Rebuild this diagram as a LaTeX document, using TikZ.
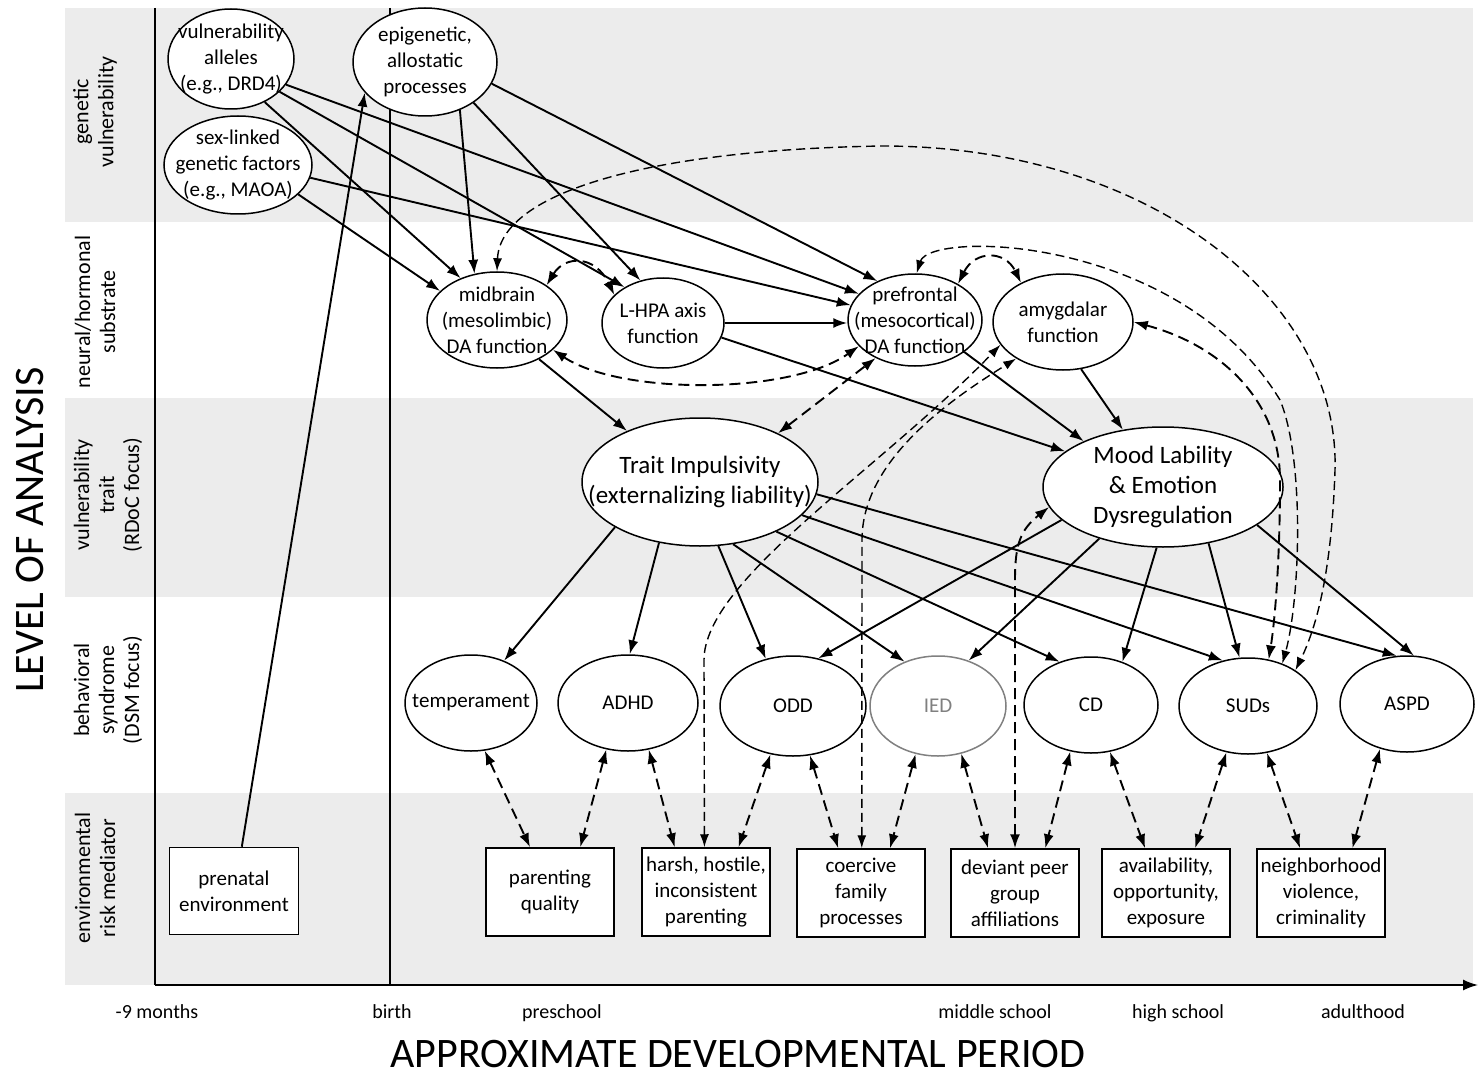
\documentclass[tikz,border=0pt]{standalone}
\usepackage{fontspec}
\setmainfont{Carlito}
\usepackage{tikz}
\usetikzlibrary{arrows.meta,shapes.geometric}
\tikzstyle{every node}=[align=center, inner sep=0pt]

\begin{document}
\begin{tikzpicture}[
    x=1pt, y=-1pt,
    band/.style={fill=gray!15},
    axisline/.style={line width=1.6pt},
    bandlabel/.style={
        rotate=90,
        font=\fontsize{22}{25}\selectfont
        },
    period/.style={anchor=base, font=\fontsize{20}{24}\selectfont},
    axistitle/.style={font=\fontsize{42}{46}\selectfont},
    factor/.style={
        ellipse,
        draw=black,
        fill=white,
        line width=1.5pt,
        inner sep=-30pt,
        font=\fontsize{21}{26}\selectfont
        },
    bigfactor/.style={
        factor,
        font=\fontsize{25}{30}\selectfont
        },
    mediator/.style={
        rectangle,
        draw=black,
        fill=white,
        line width=1.5pt,
        minimum width=128pt,
        minimum height=88pt,
        font=\fontsize{21}{26}\selectfont
        },
    effect/.style={-{Latex[length=14pt,width=10pt]}, line width=1.9pt},
    mutual/.style={
        {Latex[length=14pt,width=10pt]}-{Latex[length=14pt,width=10pt]},
        line width=1.9pt,
        dash pattern=on 11pt off 6pt
        },
    longmutual/.style={
        {Latex[length=13pt,width=9pt]}-{Latex[length=13pt,width=9pt]},
        line width=1.4pt,
        dash pattern=on 9pt off 5pt
        },
  ]
  \useasboundingbox (0,0) rectangle (1481,1078);
  % Bands
  \fill[band] (65,8) rectangle (1473,222);
  \fill[band] (65,398) rectangle (1473,597);
  \fill[band] (65,793) rectangle (1473,985);
  \node[bandlabel] (genlab) at (95,112) {genetic\\vulnerability};
  \node[bandlabel] (neurlab) at (95,312) {neural/hormonal\\substrate};
  \node[bandlabel] (traitlab) at (108,495) {vulnerability\\trait\\(RDoC focus)};
  \node[bandlabel] (synlab) at (108,690) {behavioral\\syndrome\\(DSM focus)};
  \node[bandlabel] (envlab) at (95,878) {environmental\\risk mediator};
  % Axes
  \coordinate (ytop) at (155,8);
  \coordinate (origin) at (155,985);
  \coordinate (xend) at (1478,985);
  \coordinate (birthtop) at (390,8);
  \coordinate (birthbot) at (390,985);
  \draw[axisline] (ytop) -- (origin);
  \draw[axisline, -{Latex[length=15pt,width=11pt]}] (origin) -- (xend);
  \draw[axisline] (birthtop) -- (birthbot);
  \node[period] (months) at (157,1018) {-9 months};
  \node[period] (birth) at (392,1018) {birth};
  \node[period] (preschool) at (562,1018) {preschool};
  \node[period] (middle) at (995,1018) {middle school};
  \node[period] (high) at (1178,1018) {high school};
  \node[period] (adult) at (1363,1018) {adulthood};
  \node[axistitle] (xtitle) at (738,1054) {APPROXIMATE DEVELOPMENTAL PERIOD};
  \node[axistitle, rotate=90] (ytitle) at (30,530) {LEVEL OF ANALYSIS};
  % Genetic level
  \node[factor, minimum width=126pt, minimum height=100pt] (alleles) at (231,59) {vulnerability\\alleles\\(e.g., DRD4)};
  \node[factor, minimum width=148pt, minimum height=98pt] (sexlinked) at (238,165) {sex-linked\\genetic factors\\(e.g., MAOA)};
  \node[factor, minimum width=144pt, minimum height=108pt] (epigen) at (425,62) {epigenetic,\\allostatic\\processes};
  % Neural level
  \node[factor, minimum width=140pt, minimum height=96pt] (midbrain) at (497,320) {midbrain\\(mesolimbic)\\DA function};
  \node[factor, minimum width=122pt, minimum height=90pt] (lhpa) at (663,323) {L-HPA axis\\function};
  \node[factor, minimum width=134pt, minimum height=92pt] (prefrontal) at (915,320) {prefrontal\\(mesocortical)\\DA function};
  \node[factor, minimum width=140pt, minimum height=96pt] (amygdala) at (1063,322) {amygdalar\\function};
  % Trait level
  \node[bigfactor, minimum width=236pt, minimum height=128pt] (trait) at (700,482) {Trait Impulsivity\\(externalizing liability)};
  \node[bigfactor, minimum width=240pt, minimum height=120pt] (mood) at (1163,487) {Mood Lability\\\& Emotion\\Dysregulation};
  % Syndrome level
  \node[factor, minimum width=132pt, minimum height=96pt] (temper) at (471,703) {temperament};
  \node[factor, minimum width=140pt, minimum height=96pt] (adhd) at (628,703) {ADHD};
  \node[factor, minimum width=146pt, minimum height=100pt] (odd) at (793,706) {ODD};
  \node[factor, minimum width=136pt, minimum height=100pt, draw=gray, text=gray] (ied) at (938,706) {IED};
  \node[factor, minimum width=134pt, minimum height=96pt] (cd) at (1091,705) {CD};
  \node[factor, minimum width=138pt, minimum height=96pt] (suds) at (1248,706) {SUDs};
  \node[factor, minimum width=134pt, minimum height=96pt] (aspd) at (1407,704) {ASPD};
  % Mediator level
  \node[mediator, minimum width=129pt, minimum height=87pt] (prenatal) at (234,891) {prenatal\\environment};
  \node[mediator] (parenting) at (550,892) {parenting\\quality};
  \node[mediator] (harsh) at (706,892) {harsh, hostile,\\inconsistent\\parenting};
  \node[mediator] (coercive) at (861,893) {coercive\\family\\processes};
  \node[mediator] (deviant) at (1015,893) {deviant peer\\group\\affiliations};
  \node[mediator] (avail) at (1166,893) {availability,\\opportunity,\\exposure};
  \node[mediator] (neighbor) at (1321,893) {neighborhood\\violence,\\criminality};
  % Genetic influences
  \draw[effect] (alleles.-52) -- (midbrain.131);
  \draw[effect] (alleles.-34) -- (lhpa.137);
  \draw[effect] (alleles.-25) -- (prefrontal.155);
  \draw[effect] (sexlinked.-26) -- (midbrain.153);
  \draw[effect] (sexlinked.-10) -- (prefrontal.167);
  \draw[effect] (epigen.-54) -- (midbrain.116);
  \draw[effect] (epigen.-40) -- (lhpa.118);
  \draw[effect] (epigen.-18) -- (prefrontal.134);
  \draw[effect] (prenatal.80) -- (epigen.207);
  % Neural influences
  \draw[effect] (lhpa.east) -- (lhpa.east -| prefrontal.west);
  \draw[effect] (lhpa.-14) -- (mood.160);
  \draw[effect] (midbrain.-43) -- (trait.145);
  \draw[effect] (prefrontal.-33) -- (mood.150);
  \draw[effect] (amygdala.-69) -- (mood.125);
  % Trait influences
  \draw[effect] (trait.208) -- (temper.52);
  \draw[effect] (trait.236) -- (adhd.88);
  \draw[effect] (trait.-74) -- (odd.120);
  \draw[effect] (trait.-62) -- (ied.127);
  \draw[effect] (trait.-33) -- (cd.126);
  \draw[effect] (trait.-18) -- (suds.119);
  \draw[effect] (trait.-6) -- (aspd.102);
  \draw[effect] (mood.198) -- (odd.62);
  \draw[effect] (mood.219) -- (ied.56);
  \draw[effect] (mood.264) -- (cd.54);
  \draw[effect] (mood.-51) -- (suds.100);
  \draw[effect] (mood.-22) -- (aspd.82);
  % Reciprocal neural loops
  \draw[mutual] (midbrain.35) .. controls (565,255) and (595,255) .. (lhpa.150);
  \draw[mutual] (prefrontal.40) .. controls (975,250) and (1005,250) .. (amygdala.137);
  \draw[mutual] (midbrain.-28) .. controls (620,395) and (790,395) .. (prefrontal.205);
  \draw[mutual] (trait.32) -- (prefrontal.224);
  % Long loops to SUDs
  \draw[longmutual] (midbrain.90) .. controls (500,195) and (640,150) .. (882,146)
      .. controls (1150,146) and (1340,300) .. (1335,470)
      .. controls (1332,560) and (1320,620) .. (suds.37);
  \draw[longmutual] (prefrontal.88) .. controls (930,230) and (1180,235) .. (1280,400)
      .. controls (1305,460) and (1300,600) .. (suds.51);
  \draw[mutual] (amygdala.east) .. controls (1220,345) and (1280,400) .. (1280,480)
      .. controls (1280,560) and (1275,620) .. (suds.66);
  % Mediators to neural and trait level
  \draw[longmutual] (harsh.92) -- (704,660) .. controls (704,580) and (880,470) .. (amygdala.200);
  \draw[longmutual] (coercive.89) -- (862,540) .. controls (862,460) and (950,400) .. (amygdala.218);
  \draw[mutual] (deviant.north) -- (1015,580) .. controls (1015,545) and (1020,530) .. (mood.190);
  % Mediators to syndromes
  \draw[mutual] (temper.-74) -- (parenting.114);
  \draw[mutual] (adhd.245) -- (parenting.56);
  \draw[mutual] (adhd.-66) -- (harsh.125);
  \draw[mutual] (odd.245) -- (harsh.54);
  \draw[mutual] (odd.-71) -- (coercive.117);
  \draw[mutual] (ied.245) -- (coercive.57);
  \draw[mutual] (ied.-64) -- (deviant.121);
  \draw[mutual] (cd.246) -- (deviant.56);
  \draw[mutual] (cd.-68) -- (avail.115);
  \draw[mutual] (suds.245) -- (avail.57);
  \draw[mutual] (suds.-68) -- (neighbor.115);
  \draw[mutual] (aspd.239) -- (neighbor.55);
\end{tikzpicture}
\end{document}
